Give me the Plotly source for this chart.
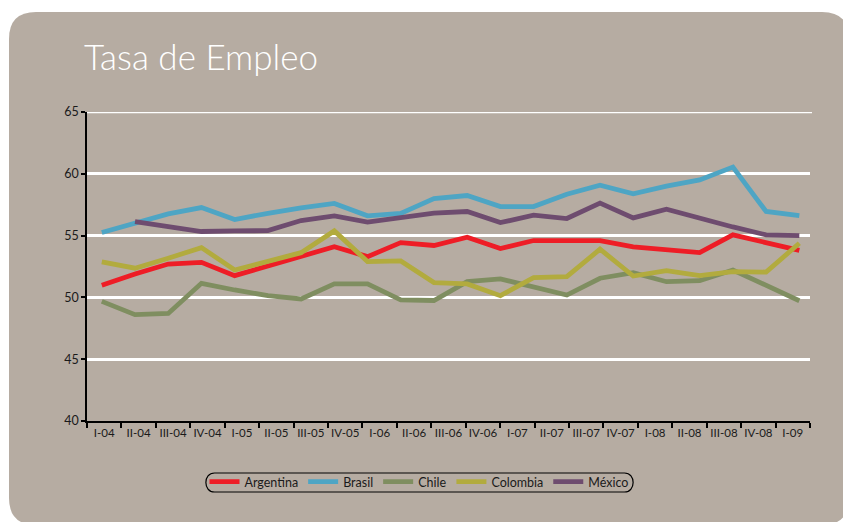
import numpy as np
import plotly.graph_objects as go

# quarter labels on the x axis
quarters = ["I-04", "II-04", "III-04", "IV-04", "I-05", "II-05", "III-05", "IV-05",
            "I-06", "II-06", "III-06", "IV-06", "I-07", "II-07", "III-07", "IV-07",
            "I-08", "II-08", "III-08", "IV-08", "I-09"]

# employment rate (%), 22 observations per country
argentina = [50.98, 51.9, 52.7, 52.84, 51.76, 52.57, 53.35, 54.1, 53.3, 54.43, 54.2,
             54.87, 53.95, 54.6, 54.6, 54.6, 54.08, 53.84, 53.62, 55.06, 54.43, 53.8]
brasil = [55.25, 56.0, 56.76, 57.27, 56.3, 56.8, 57.25, 57.6, 56.6, 56.8, 58.0,
          58.24, 57.35, 57.35, 58.35, 59.08, 58.38, 59.0, 59.5, 60.54, 56.95, 56.62]
chile = [49.68, 48.6, 48.7, 51.14, 50.6, 50.14, 49.87, 51.09, 51.09, 49.8, 49.75,
         51.27, 51.5, 50.87, 50.19, 51.55, 52.0, 51.27, 51.35, 52.22, 51.0, 49.73]
colombia = [52.87, 52.36, 53.17, 54.03, 52.22, 52.9, 53.62, 55.38, 52.9, 52.95, 51.2,
            51.09, 50.14, 51.6, 51.68, 53.9, 51.73, 52.16, 51.76, 52.08, 52.05, 54.38]
mexico = [None, 56.13, 55.73, 55.33, 55.38, 55.4, 56.22, 56.6, 56.09, 56.5, 56.82,
          56.95, 56.05, 56.65, 56.38, 57.63, 56.43, 57.14, 56.4, 55.7, 55.06, 55.0]

series = [("Argentina", argentina, "#ee1d26"),
          ("Brasil", brasil, "#4ea5c4"),
          ("Chile", chile, "#7f8e60"),
          ("Colombia", colombia, "#b2ab3e"),
          ("México", mexico, "#6e4c6f")]

# the 22 points are spread evenly across the 21 quarter slots
xpos = np.linspace(0.43, 20.69, len(argentina))

W, H = 843, 522
L, R, T, B = 87, 33, 112, 101
PW, PH = W - L - R, H - T - B
BG = "#b6aca2"

def px(x):
    return (x - L) / PW

def py(y):
    return (H - B - y) / PH

fig = go.Figure()
for name, vals, col in series:
    fig.add_trace(go.Scatter(x=xpos, y=vals, name=name, mode="lines",
                             line=dict(color=col, width=4.8)))

# rounded taupe panel behind everything
x0, x1, y0, y1, r = 9, 849, 12, 525, 27
path = (f"M {px(x0)},{py(y0 + r)} Q {px(x0)},{py(y0)} {px(x0 + r)},{py(y0)} "
        f"L {px(x1 - r)},{py(y0)} Q {px(x1)},{py(y0)} {px(x1)},{py(y0 + r)} "
        f"L {px(x1)},{py(y1 - r)} Q {px(x1)},{py(y1)} {px(x1 - r)},{py(y1)} "
        f"L {px(x0 + r)},{py(y1)} Q {px(x0)},{py(y1)} {px(x0)},{py(y1 - r)} Z")
fig.add_shape(type="path", path=path, xref="paper", yref="paper",
              fillcolor=BG, line=dict(width=0), layer="below")
# top gridline (plotly drops the one on the range edge)
fig.add_shape(type="line", xref="paper", yref="y", x0=0, x1=px(812), y0=65, y1=65,
              line=dict(color="white", width=2.5), layer="below")

# stadium-shaped legend frame
lx0, lx1, ly0, ly1 = 205, 634, 473, 492
lr = (ly1 - ly0) / 2
lpath = (f"M {px(lx0 + lr)},{py(ly0)} L {px(lx1 - lr)},{py(ly0)} "
         f"C {px(lx1 + 2)},{py(ly0)} {px(lx1 + 2)},{py(ly1)} {px(lx1 - lr)},{py(ly1)} "
         f"L {px(lx0 + lr)},{py(ly1)} "
         f"C {px(lx0 - 2)},{py(ly1)} {px(lx0 - 2)},{py(ly0)} {px(lx0 + lr)},{py(ly0)} Z")
fig.add_shape(type="path", path=lpath, xref="paper", yref="paper",
              line=dict(color="black", width=1.2), layer="above")

fig.add_annotation(text="Tasa de Empleo", xref="paper", yref="paper",
                   x=px(82), y=py(56), xanchor="left", yanchor="middle",
                   showarrow=False,
                   font=dict(family="Lato", size=35, color="white", weight=300))

fig.update_layout(
    width=W, height=H,
    margin=dict(l=L, r=R, t=T, b=B),
    paper_bgcolor="white", plot_bgcolor="rgba(0,0,0,0)",
    showlegend=True,
    legend=dict(orientation="h", x=px(419), y=py(482), xanchor="center", yanchor="middle",
                font=dict(family="Lato", size=12.5, color="#1a1a1a"),
                bgcolor="rgba(0,0,0,0)", itemwidth=30, tracegroupgap=0),
)
fig.update_xaxes(range=[0, 21], tickvals=[i + 0.5 for i in range(len(quarters))],
                 ticktext=quarters, ticks="", showgrid=False, zeroline=False,
                 showline=True, linecolor="black", linewidth=1.5,
                 tickfont=dict(family="Lato", size=11.5, color="#1a1a1a"),
                 minor=dict(tick0=0, dtick=1, ticks="outside", ticklen=5,
                            tickcolor="black", tickwidth=1.5, showgrid=False))
fig.update_yaxes(range=[40, 65], tickvals=[40, 45, 50, 55, 60, 65], ticks="outside",
                 ticklen=4, tickcolor="black",
                 tickwidth=1.5, showline=True, linecolor="black", linewidth=1.5,
                 gridcolor="white", gridwidth=2.5, zeroline=False,
                 tickfont=dict(family="Lato", size=12.5, color="#1a1a1a"))

fig.write_html("out.html", config={"displayModeBar": False},
               post_script="document.body.style.margin='0';")
